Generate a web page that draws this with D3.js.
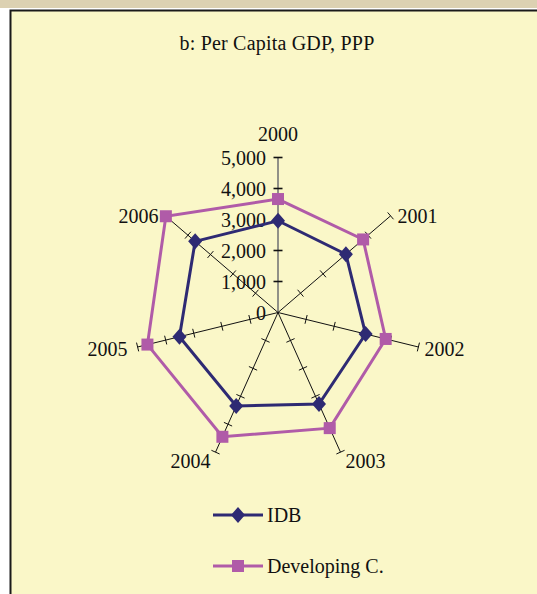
<!DOCTYPE html>
<html><head><meta charset="utf-8">
<script src="https://cdn.jsdelivr.net/npm/d3@7"></script>
<style>html,body{margin:0;padding:0;background:#fff;}svg{display:block;}text{font-family:"Liberation Serif","Times New Roman",serif;fill:#111;}</style>
</head><body><svg id="c" width="537" height="594"></svg>
<script>
const years = ["2000","2001","2002","2003","2004","2005","2006"];
const idb = [2960, 3015, 3120, 3280, 3345, 3510, 3680];
const developing = [3660, 3780, 3835, 4140, 4450, 4650, 4980];
const seriesNames = ["IDB", "Developing C."];
const tickValues = [0, 1000, 2000, 3000, 4000, 5000];

const svg = d3.select("#c");
svg.append("rect").attr("x",0).attr("y",0).attr("width",537).attr("height",8).attr("fill","#DCD1B2");
svg.append("rect").attr("x",10.5).attr("y",10.5).attr("width",540).attr("height",600)
  .attr("fill","#FAF7C8").attr("stroke","#1a1a1a").attr("stroke-width",2);

svg.append("text").attr("x",277).attr("y",50).attr("text-anchor","middle")
  .style("font-size","20px").style("letter-spacing","0.2px").text("b: Per Capita GDP, PPP");

const cx = 278, cy = 312.5, rx = 144, ry = 155;
const r = d3.scaleLinear().domain([0,5000]).range([0,1]);
const ang = d3.scalePoint().domain(years).range([0, 2*Math.PI*6/7]);
function pt(year, v){ const a = ang(year), k = r(v); return [cx + rx*k*Math.sin(a), cy - ry*k*Math.cos(a)]; }

const g = svg.append("g");
years.forEach((y,i)=>{
  const e = pt(y,5000);
  g.append("line").attr("x1",cx).attr("y1",cy).attr("x2",e[0]).attr("y2",e[1])
    .attr("stroke", i===0 ? "#777" : "#111").attr("stroke-width", i===0 ? 1.6 : 1);
  const a = ang(y);
  tickValues.slice(1).forEach(t=>{
    const p = pt(y,t);
    const dx = rx*Math.sin(a), dy = -ry*Math.cos(a); const L = Math.hypot(dx,dy);
    const nx = -dy/L, ny = dx/L, h = 4.5;
    g.append("line").attr("x1",p[0]-nx*h).attr("y1",p[1]-ny*h).attr("x2",p[0]+nx*h).attr("y2",p[1]+ny*h)
      .attr("stroke", "#111").attr("stroke-width", i===0 ? 1.6 : 1);
  });
  const s = Math.sin(a), c = Math.cos(a);
  let lx = e[0], ly = e[1], anchor = "middle";
  if (i===0){ ly = e[1]-24; }
  else if (Math.abs(s) > 0.9){ lx += s>0 ? 6 : -10; anchor = s>0 ? "start":"end"; ly += 2; }
  else if (c > 0){ lx += s>0 ? 7 : -7; anchor = s>0 ? "start":"end"; }
  else { lx += s>0 ? 5 : -5; anchor = s>0 ? "start":"end"; ly += 9; }
  g.append("text").attr("x",lx).attr("y",ly).attr("dy","0.35em").attr("text-anchor",anchor)
    .style("font-size","20px").text(y);
});
const fmt = d3.format(",");
tickValues.forEach(t=>{
  const p = pt(years[0], t);
  g.append("text").attr("x", cx-12).attr("y", p[1]).attr("dy","0.35em").attr("text-anchor","end")
    .style("font-size","20px").text(fmt(t));
});

const colors = ["#2E2A73", "#B05BA8"];
const data = [idb, developing];
const line = d3.line().curve(d3.curveLinearClosed);
data.forEach((vals, si)=>{
  const pts = vals.map((v,i)=>pt(years[i], v));
  g.append("path").attr("d", line(pts)).attr("fill","none").attr("stroke",colors[si]).attr("stroke-width",3);
});
function marker(sel, si, x, y){
  if (si===0){
    sel.append("path").attr("d", `M${x},${y-8}L${x+7},${y}L${x},${y+8}L${x-7},${y}Z`).attr("fill",colors[0]);
  } else {
    sel.append("rect").attr("x",x-6).attr("y",y-6).attr("width",12).attr("height",12).attr("fill",colors[1]);
  }
}
data.forEach((vals, si)=>{ vals.forEach((v,i)=>{ const p = pt(years[i], v); marker(g, si, p[0], p[1]); }); });

const leg = svg.append("g");
const ly0 = [515, 566];
seriesNames.forEach((n, si)=>{
  leg.append("line").attr("x1",213).attr("x2",263).attr("y1",ly0[si]).attr("y2",ly0[si]).attr("stroke",colors[si]).attr("stroke-width",3);
  marker(leg, si, 238, ly0[si]);
  leg.append("text").attr("x",267).attr("y",ly0[si]).attr("dy","0.35em").style("font-size","20px").text(n);
});
</script></body></html>
